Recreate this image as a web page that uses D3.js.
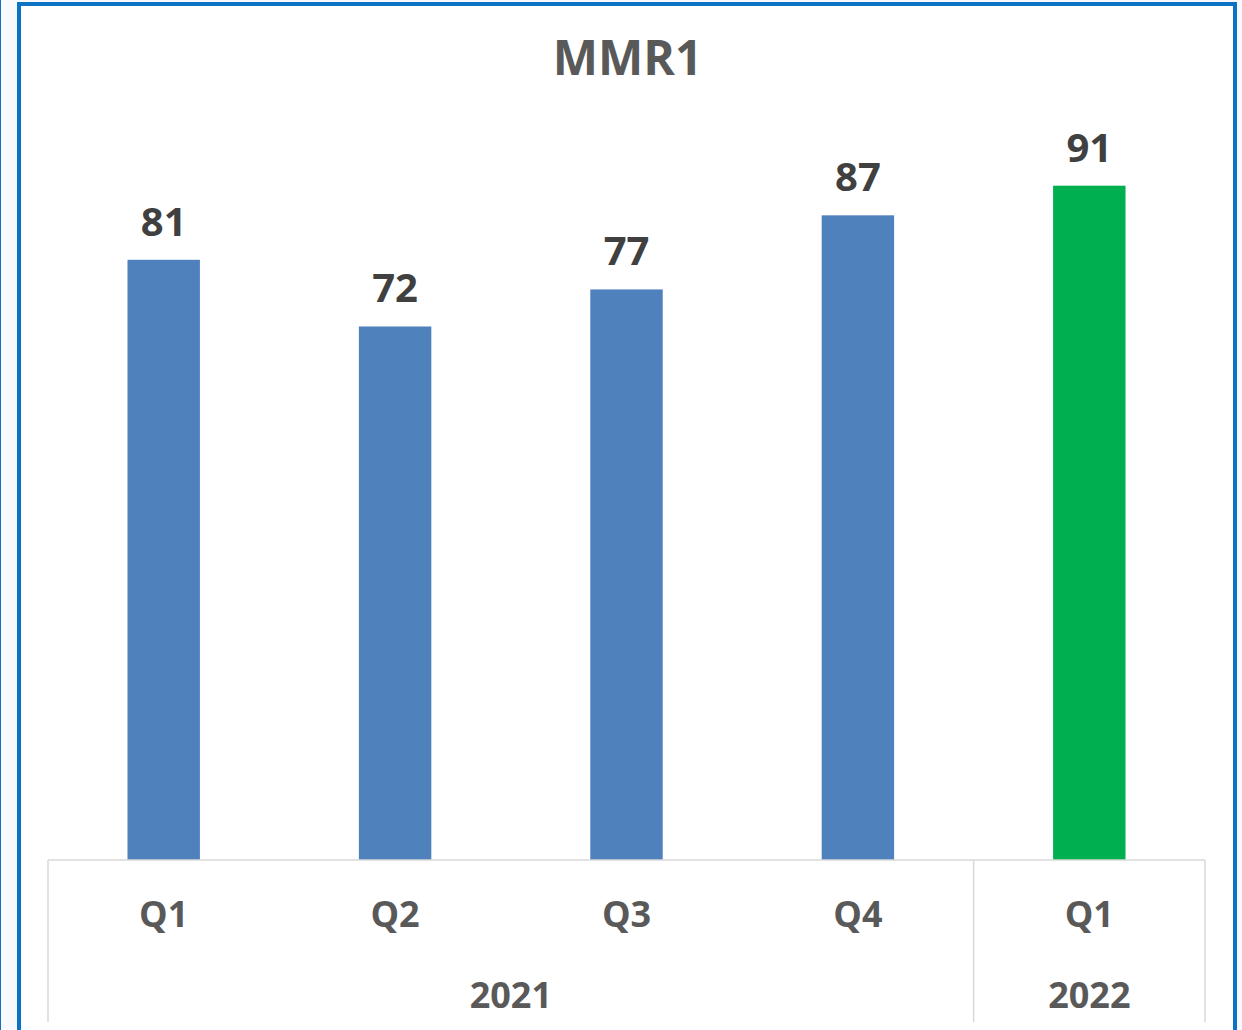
<!DOCTYPE html>
<html>
<head>
<meta charset="utf-8">
<script src="https://cdn.jsdelivr.net/npm/d3@7/dist/d3.min.js"></script>
<style>
  html, body { margin: 0; padding: 0; background: #ffffff; }
  svg { display: block; }
  text { font-family: "Open Sans", "Liberation Sans", sans-serif; font-weight: 700; }
</style>
</head>
<body>
<svg id="chart" width="1242" height="1030"></svg>
<script>
// MMR1 by quarter
const title = "MMR1";
const quarters = ["Q1", "Q2", "Q3", "Q4", "Q1"];
const years = ["2021", "2021", "2021", "2021", "2022"];
const values = [81, 72, 77, 87, 91];
const yearList = ["2021", "2022"];

const W = 1242, H = 1030;
const svg = d3.select("#chart");

// page backdrop and framed chart area
svg.append("rect").attr("width", W).attr("height", H).attr("fill", "#f7f9fd");
svg.append("line").attr("x1", 0.5).attr("x2", 0.5).attr("y1", 0).attr("y2", H)
  .attr("stroke", "#0b72c4").attr("stroke-width", 1);
svg.append("rect").attr("x", 19).attr("y", 4).attr("width", 1216).attr("height", H + 20)
  .attr("fill", "#ffffff").attr("stroke", "#0b72c4").attr("stroke-width", 4);

const plotLeft = 48, plotRight = 1205, baseY = 860, axisBottom = 1022;
const keys = quarters.map((q, i) => years[i] + "-" + q);

const x = d3.scaleBand().domain(keys).range([plotLeft, plotRight])
  .paddingInner(0.687).paddingOuter(0.3435);
const step = x.step();
const y = d3.scaleLinear().domain([0, 100]).range([baseY, 119]);
const color = d3.scaleOrdinal().domain(yearList).range(["#4f81bd", "#00b050"]);

const data = keys.map((k, i) => ({ key: k, q: quarters[i], year: years[i], v: values[i] }));

// title
svg.append("text").attr("x", (plotLeft + plotRight) / 2 + 1).attr("y", 75)
  .attr("text-anchor", "middle").attr("font-size", 48).attr("fill", "#595959")
  .text(title);

// bars
svg.append("g").selectAll("rect").data(data).join("rect")
  .attr("x", d => x(d.key))
  .attr("y", d => y(d.v))
  .attr("width", x.bandwidth())
  .attr("height", d => y(0) - y(d.v))
  .attr("fill", d => color(d.year));

// value labels
svg.append("g").selectAll("text").data(data).join("text")
  .attr("x", d => x(d.key) + x.bandwidth() / 2)
  .attr("y", d => y(d.v) - 24)
  .attr("text-anchor", "middle").attr("font-size", 40).attr("fill", "#404040")
  .text(d => d.v);

// category axis: baseline, quarter labels, year groups
const axis = svg.append("g").attr("stroke", "#d9d9d9").attr("stroke-width", 1.5);
axis.append("line").attr("x1", plotLeft).attr("x2", plotRight)
  .attr("y1", baseY).attr("y2", baseY);

const groups = yearList.map(yr => {
  const idx = data.filter(d => d.year === yr).map(d => keys.indexOf(d.key));
  const start = x(keys[d3.min(idx)]) - (step - x.bandwidth()) / 2;
  const end = x(keys[d3.max(idx)]) + x.bandwidth() + (step - x.bandwidth()) / 2;
  return { yr, start, end };
});
const bounds = [groups[0].start].concat(groups.map(g => g.end));
axis.selectAll("line.sep").data(bounds).join("line").attr("class", "sep")
  .attr("x1", d => d).attr("x2", d => d).attr("y1", baseY).attr("y2", axisBottom);

svg.append("g").selectAll("text").data(data).join("text")
  .attr("x", d => x(d.key) + x.bandwidth() / 2)
  .attr("y", 927)
  .attr("text-anchor", "middle").attr("font-size", 36).attr("fill", "#595959")
  .text(d => d.q);

svg.append("g").selectAll("text").data(groups).join("text")
  .attr("x", d => (d.start + d.end) / 2)
  .attr("y", 1008)
  .attr("text-anchor", "middle").attr("font-size", 36).attr("fill", "#595959")
  .text(d => d.yr);
</script>
</body>
</html>
